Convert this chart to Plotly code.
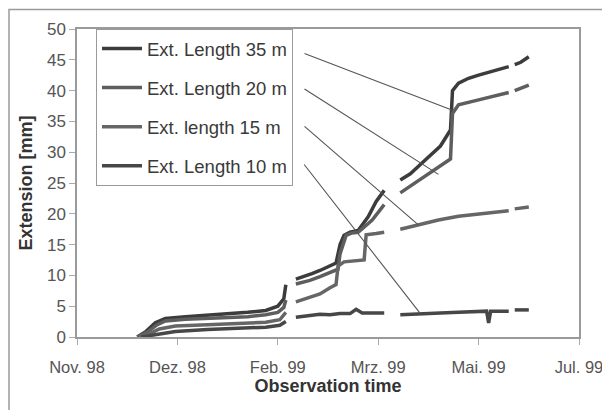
import plotly.graph_objects as go
from datetime import datetime, timedelta

# ---------------- data ----------------
series_names = ["Ext. Length 35 m", "Ext. Length 20 m", "Ext. length 15 m", "Ext. Length 10 m"]

x_35 = ["1998-12-01", "1998-12-05", "1998-12-10", "1998-12-15", "1998-12-25", "1999-01-05", "1999-01-15",
        "1999-01-25", "1999-02-03", "1999-02-09", "1999-02-12", "1999-02-13", "1999-02-15",
        "1999-02-18", "1999-02-22", "1999-02-26", "1999-03-02", "1999-03-07", "1999-03-10", "1999-03-12",
        "1999-03-14", "1999-03-17", "1999-03-21", "1999-03-26", "1999-03-30", "1999-04-03", "1999-04-07",
        "1999-04-11", "1999-04-16", "1999-04-21", "1999-04-26", "1999-05-01", "1999-05-06", "1999-05-07",
        "1999-05-10", "1999-05-15", "1999-05-20", "1999-05-25", "1999-05-30", "1999-06-04", "1999-06-05",
        "1999-06-07", "1999-06-10", "1999-06-14"]
y_35 = [0, 0.8, 2.3, 3.0, 3.3, 3.5, 3.7, 4.0, 4.3, 5.0, 6.2, 8.5, None,
        9.4, 9.8, 10.3, 10.8, 11.5, 12.0, 15.0, 16.5, 17.0, 17.3, 19.5, 22.0, 23.8, None,
        25.5, 26.5, 28.0, 29.5, 31.0, 33.6, 40.0, 41.2, 42.0, 42.5, 43.0, 43.5, 43.9, None,
        44.2, 44.6, 45.5]

x_20 = ["1998-12-01", "1998-12-06", "1998-12-11", "1998-12-15", "1998-12-25", "1999-01-05", "1999-01-15",
        "1999-01-25", "1999-02-03", "1999-02-09", "1999-02-12", "1999-02-13", "1999-02-15",
        "1999-02-18", "1999-02-25", "1999-03-02", "1999-03-07", "1999-03-11", "1999-03-12", "1999-03-15",
        "1999-03-18", "1999-03-21", "1999-03-28", "1999-04-03", "1999-04-07",
        "1999-04-11", "1999-04-16", "1999-04-21", "1999-04-26", "1999-04-30", "1999-05-06", "1999-05-07",
        "1999-05-10", "1999-05-20", "1999-05-30", "1999-06-04", "1999-06-05", "1999-06-07", "1999-06-14"]
y_20 = [0, 0.8, 2.0, 2.6, 2.9, 3.0, 3.1, 3.3, 3.6, 4.0, 4.8, 6.0, None,
        8.6, 9.2, 9.8, 10.5, 11.0, 13.5, 16.5, 16.9, 17.0, 19.0, 21.5, None,
        23.4, 24.5, 25.6, 26.8, 27.6, 28.9, 36.3, 37.7, 38.5, 39.3, 39.7, None, 40.0, 40.9]

x_15 = ["1998-12-02", "1998-12-07", "1998-12-12", "1998-12-20", "1999-01-05", "1999-01-20", "1999-02-03",
        "1999-02-10", "1999-02-13", "1999-02-15",
        "1999-02-18", "1999-02-25", "1999-03-02", "1999-03-07", "1999-03-10", "1999-03-11", "1999-03-14",
        "1999-03-24", "1999-03-25", "1999-03-30", "1999-04-03", "1999-04-07",
        "1999-04-11", "1999-04-20", "1999-04-30", "1999-05-10", "1999-05-20", "1999-05-30", "1999-06-04",
        "1999-06-05", "1999-06-07", "1999-06-14"]
y_15 = [0, 0.5, 1.3, 1.8, 2.0, 2.2, 2.4, 2.8, 4.0, None,
        5.7, 6.4, 7.0, 8.0, 8.5, 11.5, 12.2, 12.5, 16.6, 16.8, 17.0, None,
        17.5, 18.2, 19.0, 19.6, 20.0, 20.3, 20.5, None, 20.8, 21.1]

x_10 = ["1998-12-03", "1998-12-10", "1998-12-20", "1999-01-05", "1999-01-20", "1999-02-03", "1999-02-10",
        "1999-02-13", "1999-02-15",
        "1999-02-18", "1999-02-25", "1999-03-02", "1999-03-07", "1999-03-12", "1999-03-17", "1999-03-20",
        "1999-03-23", "1999-03-30", "1999-04-03", "1999-04-07",
        "1999-04-11", "1999-04-21", "1999-05-01", "1999-05-10", "1999-05-20", "1999-05-24", "1999-05-25",
        "1999-05-26", "1999-06-04", "1999-06-05", "1999-06-07", "1999-06-14"]
y_10 = [0, 0.4, 0.9, 1.2, 1.4, 1.6, 1.9, 2.5, None,
        3.2, 3.5, 3.7, 3.6, 3.8, 3.8, 4.5, 3.9, 3.9, 3.9, None,
        3.6, 3.8, 3.9, 4.0, 4.1, 4.2, 2.3, 4.2, 4.2, None, 4.4, 4.4]

tick_dates = ["1998-11-01", "1998-12-21", "1999-02-09", "1999-03-31", "1999-05-20", "1999-07-09"]
tick_labels = ["Nov. 98", "Dez. 98", "Feb. 99", "Mrz. 99", "Mai. 99", "Jul. 99"]
y_ticks = [0, 5, 10, 15, 20, 25, 30, 35, 40, 45, 50]

# ---------------- styling ----------------
FONT = "Liberation Sans, Arial, sans-serif"
colors = ["#3c3c3c", "#5e5e5e", "#666666", "#474747"]
OFF = 8                      # page body margin offset
W, H = 610 - OFF, 410 - OFF
L, T = 77 - OFF, 29 - OFF    # plot-area left/top in figure px
PW, PH = 502, 308
R, B = W - L - PW, H - T - PH
x_start, x_end = tick_dates[0], tick_dates[-1]

fig = go.Figure()
all_x = [x_35, x_20, x_15, x_10]
all_y = [y_35, y_20, y_15, y_10]
for i, (name, xs, ys) in enumerate(zip(series_names, all_x, all_y)):
    fig.add_trace(go.Scatter(
        x=xs, y=ys, name=name, mode="lines", legendgroup=f"g{i}",
        line=dict(color=colors[i], width=3.5), connectgaps=False,
    ))

d0 = datetime.fromisoformat(x_start)
d1 = datetime.fromisoformat(x_end)
span_days = (d1 - d0).days


def px_to_date(px):  # window px -> date
    return (d0 + timedelta(days=(px - OFF - L) / PW * span_days)).strftime("%Y-%m-%d %H:%M")


def py_to_val(py):  # window px -> value
    return (T + PH - (py - OFF)) / PH * 50


leader_starts = [(303, 53), (303, 88), (303, 125), (303, 163)]
heads = []
i35 = x_35.index("1999-05-07")
heads.append((x_35[i35], (y_35[i35 - 1] + y_35[i35]) / 2))
i20 = x_20.index("1999-04-30")
heads.append((x_20[i20], y_20[i20] - 1.2))
i15 = x_15.index("1999-04-20")
heads.append((x_15[i15], y_15[i15]))
i10 = x_10.index("1999-04-21")
heads.append((x_10[i10], y_10[i10]))

for (sx, sy), (hx, hy) in zip(leader_starts, heads):
    fig.add_annotation(
        x=hx, y=hy, xref="x", yref="y",
        ax=px_to_date(sx), ay=py_to_val(sy), axref="x", ayref="y",
        showarrow=True, arrowhead=0, arrowwidth=1.1, arrowcolor="#555555", text="",
    )

# outer chart frame (left and top edges visible)
fig.add_shape(type="rect", xref="paper", yref="paper",
              x0=(1 - L) / PW, x1=1.1, y0=-0.3, y1=(T + PH - 1.5) / PH,
              line=dict(color="#9a9a9a", width=1.5), layer="below")

fig.update_layout(
    width=W, height=H,
    margin=dict(l=L, r=R, t=T, b=B, pad=0),
    paper_bgcolor="white", plot_bgcolor="white",
    font=dict(family=FONT, size=17, color="#555555"),
    showlegend=True,
    legend=dict(
        x=(96 - 77) / PW, y=1.0, xanchor="left", yanchor="top",
        bgcolor="white", bordercolor="#9a9a9a", borderwidth=1,
        font=dict(family=FONT, size=18.5, color="#3a3a3a"),
        tracegroupgap=12, itemwidth=40,
    ),
    xaxis=dict(
        type="date", range=[x_start, x_end], automargin=False,
        tickmode="array", tickvals=tick_dates, ticktext=tick_labels,
        ticks="outside", ticklen=6, tickcolor="#aaaaaa",
        showgrid=False, zeroline=False,
        showline=True, linecolor="#9a9a9a", linewidth=1.5, mirror=True,
        tickfont=dict(family=FONT, size=16.5, color="#555555"),
        ticklabelstandoff=8,
        title=dict(text="<b>Observation time</b>", font=dict(family=FONT, size=18, color="#333333"), standoff=2),
    ),
    yaxis=dict(
        range=[0, 50], tickmode="array", tickvals=y_ticks, automargin=False,
        ticks="outside", ticklen=6, tickcolor="#aaaaaa",
        showgrid=False, zeroline=False,
        showline=True, linecolor="#9a9a9a", linewidth=1.5, mirror=True,
        tickfont=dict(family=FONT, size=17, color="#555555"),
        title=dict(text="<b>Extension [mm]</b>", font=dict(family=FONT, size=18, color="#333333"), standoff=10),
    ),
)

fig.write_html("out.html")
